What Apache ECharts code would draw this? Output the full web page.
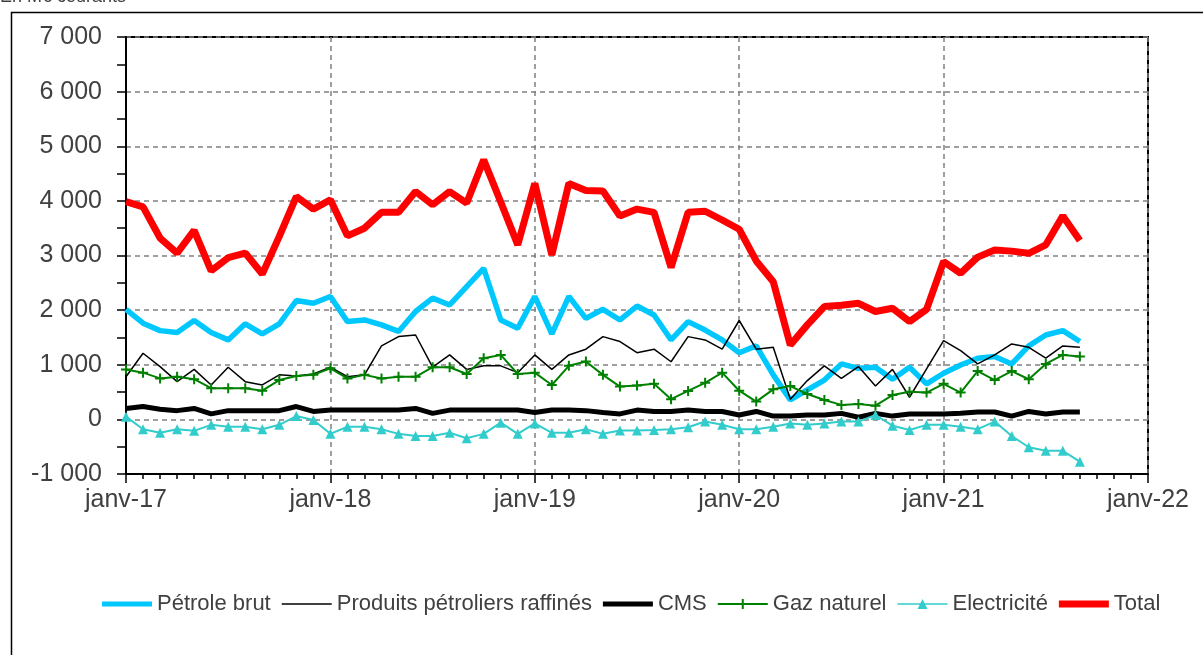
<!DOCTYPE html>
<html>
<head>
<meta charset="utf-8">
<title>Solde des échanges</title>
<script src="https://cdn.jsdelivr.net/npm/echarts@6/dist/echarts.min.js"></script>
<style>
  html, body { margin: 0; padding: 0; background: #fff; }
  #container { width: 1203px; height: 655px; }
</style>
</head>
<body>
<div id="container"></div>
<script>
// janv-17 .. sept-21, une valeur par mois (M€ courants)
var yearLabels = ['janv-17', 'janv-18', 'janv-19', 'janv-20', 'janv-21', 'janv-22'];

var petrole = [2015, 1760, 1625, 1590, 1810, 1590, 1455, 1750, 1565, 1750, 2175, 2125,
  2250, 1790, 1820, 1730, 1610, 1975, 2220, 2095, 2430, 2765, 1820, 1670,
  2250, 1565, 2250, 1850, 2015, 1820, 2075, 1910, 1455, 1790, 1635, 1455,
  1220, 1345, 815, 355, 540, 720, 1015, 935, 955, 735, 955, 650,
  845, 995, 1120, 1150, 1015, 1345, 1545, 1625, 1425];

var produits = [780, 1210, 965, 690, 915, 630, 955, 690, 630, 815, 795, 830,
  955, 780, 815, 1345, 1515, 1545, 955, 1180, 915, 980, 980, 855,
  1180, 915, 1180, 1285, 1515, 1425, 1220, 1285, 1055, 1515, 1455, 1285,
  1810, 1285, 1320, 370, 710, 980, 750, 967, 610, 915, 405, 925,
  1440, 1260, 1015, 1180, 1380, 1320, 1120, 1345, 1320];

var cms = [200, 235, 185, 160, 200, 100, 160, 160, 160, 160, 235, 145,
  170, 170, 170, 170, 170, 200, 110, 170, 170, 170, 170, 170,
  125, 170, 170, 160, 125, 100, 170, 145, 145, 170, 145, 145,
  80, 145, 60, 60, 80, 80, 110, 40, 110, 60, 100, 100,
  100, 110, 135, 135, 60, 145, 100, 135, 135];

var gaz = [915, 855, 750, 780, 735, 570, 570, 570, 525, 720, 795, 815,
  935, 750, 815, 750, 780, 780, 955, 955, 830, 1120, 1180, 830,
  855, 630, 980, 1060, 815, 600, 620, 650, 370, 520, 670, 855,
  525, 325, 550, 610, 465, 355, 265, 280, 250, 445, 505, 490,
  650, 490, 885, 720, 885, 735, 1015, 1180, 1150];

var elec = [50, -180, -245, -180, -210, -100, -135, -135, -180, -100, 60, -10,
  -265, -135, -135, -180, -265, -305, -305, -245, -345, -265, -60, -265,
  -75, -245, -245, -180, -265, -205, -205, -195, -180, -145, -40, -100,
  -180, -180, -135, -75, -100, -75, -40, -40, 80, -115, -195, -100,
  -100, -135, -180, -40, -305, -510, -575, -575, -775];

var total = [3985, 3890, 3320, 3045, 3460, 2720, 2960, 3045, 2660, 3350, 4080, 3850,
  4020, 3360, 3500, 3790, 3790, 4170, 3930, 4170, 3960, 4750, 3980, 3195,
  4320, 3010, 4320, 4190, 4180, 3725, 3850, 3790, 2780, 3790, 3810, 3650,
  3480, 2900, 2520, 1360, 1730, 2065, 2090, 2125, 1975, 2035, 1790, 2015,
  2890, 2675, 2970, 3100, 3080, 3040, 3195, 3725, 3275];

var FONT = 'Liberation Sans, Arial, sans-serif';
var TXT = '#404040';
var PLUS = 'path://M4,0H6V4H10V6H6V10H4V6H0V4H4Z';

function pts(arr) {
  return arr.map(function (v, i) { return [i, v]; });
}

// icônes de légende : trait horizontal (avec marqueur éventuel)
function legendItem(name, icon) {
  return { name: name, icon: icon, itemStyle: { borderWidth: 0 } };
}

var dom = document.getElementById('container');
var myChart = echarts.init(dom, null, { renderer: 'canvas' });

var option = {
  animation: false,
  backgroundColor: '#fff',
  graphic: [
    {
      type: 'rect',
      left: 9, top: 10,
      shape: { width: 1300, height: 800 },
      style: { fill: 'none', stroke: '#000', lineWidth: 1.5 },
      silent: true
    },
    {
      type: 'text',
      x: 0, y: 6,
      style: { text: 'En M€ courants', font: '18px ' + FONT, fill: TXT, verticalAlign: 'bottom' },
      silent: true
    }
  ],
  grid: {
    left: 126, right: 55, top: 37, bottom: 181,
    show: true, borderColor: '#000', borderWidth: 2, backgroundColor: 'transparent'
  },
  legend: {
    left: 97, top: 588,
    itemWidth: 50, itemHeight: 14, itemGap: 11,
    symbolKeepAspect: true,
    textStyle: { fontFamily: FONT, fontSize: 22, color: TXT },
    data: [
      legendItem('Pétrole brut', 'path://M0,0H50V5H0Z'),
      legendItem('Produits pétroliers raffinés', 'path://M0,0H50V1.5H0Z'),
      legendItem('CMS', 'path://M0,0H50V5H0Z'),
      legendItem('Gaz naturel', 'path://M0,4H50V6H0Z M24,0H26V10H24Z'),
      legendItem('Electricité', 'path://M0,4.2H50V5.8H0Z M25,0L30,10H20Z'),
      legendItem('Total', 'path://M0,0H50V7H0Z')
    ]
  },
  xAxis: {
    type: 'value',
    min: 0, max: 60, interval: 12,
    axisLine: { onZero: false, lineStyle: { color: '#000', width: 2 } },
    axisTick: { length: 9, lineStyle: { color: '#000', width: 1.5 } },
    minorTick: { show: true, splitNumber: 12, length: 5, lineStyle: { color: '#000', width: 1.5 } },
    axisLabel: {
      fontFamily: FONT, fontSize: 25, color: TXT, margin: 14,
      formatter: function (v) { return yearLabels[Math.round(v / 12)]; }
    },
    splitLine: { show: true, lineStyle: { color: '#808080', type: [5, 4], width: 1.5 } }
  },
  yAxis: {
    type: 'value',
    min: -1000, max: 7000, interval: 1000,
    axisLine: { show: true, onZero: false, lineStyle: { color: '#000', width: 2 } },
    axisTick: { show: true, length: 9, lineStyle: { color: '#000', width: 1.5 } },
    minorTick: { show: true, splitNumber: 2, length: 9, lineStyle: { color: '#000', width: 1.5 } },
    axisLabel: {
      fontFamily: FONT, fontSize: 25, color: TXT, margin: 24,
      formatter: function (v) {
        var s = String(Math.abs(v)).replace(/\B(?=(\d{3})+(?!\d))/g, ' ');
        return (v < 0 ? '-' : '') + s;
      }
    },
    splitLine: { show: true, lineStyle: { color: '#808080', type: [5, 4], width: 1.5 } }
  },
  series: [
    {
      name: 'Pétrole brut', type: 'line', data: pts(petrole),
      symbol: 'none', lineStyle: { color: '#00c8ff', width: 5.5 }, itemStyle: { color: '#00c8ff' }
    },
    {
      name: 'Produits pétroliers raffinés', type: 'line', data: pts(produits),
      symbol: 'none', lineStyle: { color: '#000', width: 1.5 }, itemStyle: { color: '#000' }
    },
    {
      name: 'CMS', type: 'line', data: pts(cms),
      symbol: 'none', lineStyle: { color: '#000', width: 5 }, itemStyle: { color: '#000' }
    },
    {
      name: 'Gaz naturel', type: 'line', data: pts(gaz),
      symbol: PLUS, symbolSize: 10,
      lineStyle: { color: '#008000', width: 2 }, itemStyle: { color: '#008000' }
    },
    {
      name: 'Electricité', type: 'line', data: pts(elec),
      symbol: 'triangle', symbolSize: 10,
      lineStyle: { color: '#33cccc', width: 2 }, itemStyle: { color: '#33cccc' }
    },
    {
      name: 'Total', type: 'line', data: pts(total),
      symbol: 'none', lineStyle: { color: '#ff0000', width: 7 }, itemStyle: { color: '#ff0000' }
    }
  ]
};

myChart.setOption(option);
window.addEventListener('resize', myChart.resize);
</script>
</body>
</html>
